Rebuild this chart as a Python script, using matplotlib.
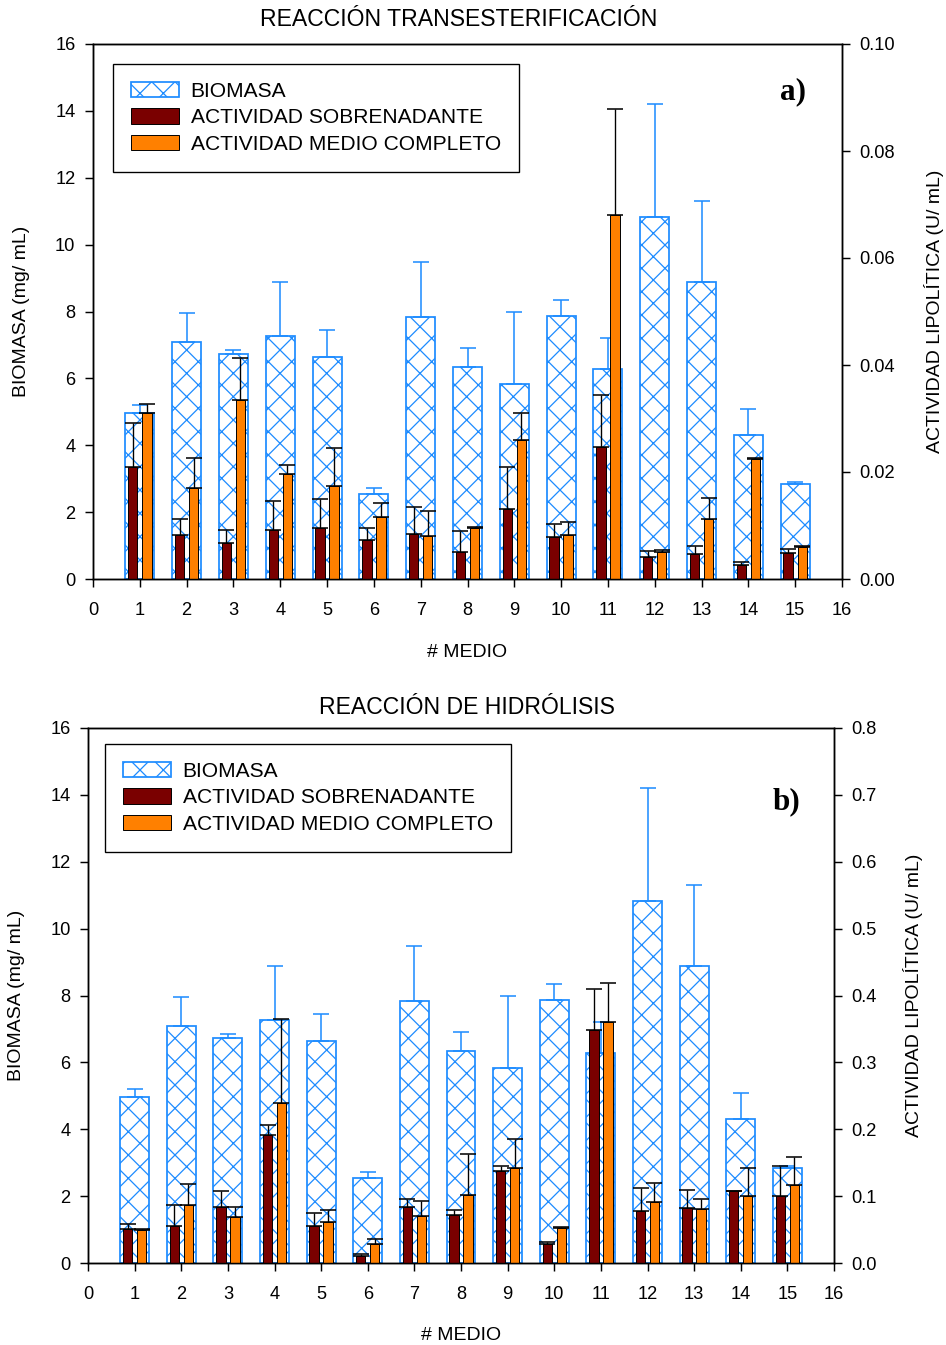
import numpy as np
import matplotlib
matplotlib.use("Agg")
import matplotlib.pyplot as plt
from matplotlib.ticker import FormatStrFormatter

# --- data ---
medio = list(range(1, 16))

biomasa = [4.97, 7.10, 6.72, 7.28, 6.63, 2.53, 7.84, 6.33, 5.82, 7.87, 6.28, 10.82, 8.87, 4.30, 2.83]
biomasa_err = [0.23, 0.86, 0.14, 1.61, 0.82, 0.20, 1.63, 0.59, 2.18, 0.47, 0.93, 3.38, 2.44, 0.77, 0.08]

# a) transesterificacion
trans_sobre = [0.0209, 0.0082, 0.0067, 0.0091, 0.0095, 0.0073, 0.0084, 0.0050, 0.0130, 0.0079, 0.0247, 0.0042, 0.0047, 0.0026, 0.0048]
trans_sobre_err = [0.0082, 0.0030, 0.0024, 0.0055, 0.0054, 0.0022, 0.0051, 0.0040, 0.0079, 0.0024, 0.0096, 0.0010, 0.0015, 0.0006, 0.0008]
trans_comp = [0.0310, 0.0171, 0.0334, 0.0196, 0.0174, 0.0116, 0.0080, 0.0095, 0.0260, 0.0082, 0.0680, 0.0051, 0.0112, 0.0224, 0.0060]
trans_comp_err = [0.0018, 0.0056, 0.0079, 0.0017, 0.0071, 0.0026, 0.0048, 0.0003, 0.0051, 0.0024, 0.0198, 0.0003, 0.0039, 0.0003, 0.0001]

# b) hidrolisis
hidro_sobre = [0.051, 0.055, 0.083, 0.191, 0.055, 0.0105, 0.084, 0.072, 0.137, 0.028, 0.348, 0.078, 0.082, 0.107, 0.100]
hidro_sobre_err = [0.008, 0.032, 0.025, 0.016, 0.020, 0.003, 0.012, 0.007, 0.0085, 0.003, 0.061, 0.034, 0.027, 0.001, 0.0455]
hidro_comp = [0.050, 0.087, 0.069, 0.240, 0.062, 0.028, 0.070, 0.101, 0.142, 0.053, 0.361, 0.091, 0.081, 0.100, 0.116]
hidro_comp_err = [0.001, 0.031, 0.014, 0.125, 0.017, 0.008, 0.022, 0.062, 0.043, 0.001, 0.058, 0.029, 0.015, 0.042, 0.043]

BLUE = '#1E8CFF'
DARKRED = '#7A0000'
ORANGE = '#FF8000'

DPI = 140
W, H = 946, 1345
plt.rcParams['font.family'] = ['Liberation Sans', 'DejaVu Sans']
plt.rcParams['hatch.linewidth'] = 0.65
plt.rcParams['hatch.color'] = BLUE
plt.rcParams['axes.linewidth'] = 0.75

fig = plt.figure(figsize=(W / DPI, H / DPI), dpi=DPI)


def px_axes(left, top, right, bottom):
    return fig.add_axes([left / W, 1 - bottom / H, (right - left) / W, (bottom - top) / H])


def panel(ax, sobre, sobre_err, comp, comp_err, ymax2, fmt, step2, leg_xy):
    x = np.array(medio)
    zeros = np.zeros(len(x))
    ax.bar(x, biomasa, width=0.62, facecolor='none', edgecolor=BLUE, linewidth=0.9,
           hatch='xx', label='BIOMASA', zorder=2)
    ax.errorbar(x, biomasa, yerr=[zeros, biomasa_err], fmt='none', ecolor=BLUE,
                elinewidth=0.8, capsize=4.2, capthick=0.8, zorder=3)
    ax.set_xlim(0, 16)
    ax.set_ylim(0, 16)
    ax.set_xticks(range(0, 17))
    ax.set_yticks(range(0, 17, 2))

    ax2 = ax.twinx()
    ax2.bar(x - 0.15, sobre, width=0.2, color=DARKRED, edgecolor='black', linewidth=0.5,
            label='ACTIVIDAD SOBRENADANTE', zorder=2)
    ax2.errorbar(x - 0.15, sobre, yerr=[zeros, sobre_err], fmt='none', ecolor='black',
                 elinewidth=0.7, capsize=4.2, capthick=0.8, zorder=3)
    ax2.bar(x + 0.15, comp, width=0.2, color=ORANGE, edgecolor='black', linewidth=0.5,
            label='ACTIVIDAD MEDIO COMPLETO', zorder=2)
    ax2.errorbar(x + 0.15, comp, yerr=[zeros, comp_err], fmt='none', ecolor='black',
                 elinewidth=0.7, capsize=4.2, capthick=0.8, zorder=3)
    ax2.set_ylim(0, ymax2)
    ax2.set_yticks(np.arange(0, ymax2 + step2 / 2, step2))
    ax2.yaxis.set_major_formatter(FormatStrFormatter(fmt))

    for a in (ax, ax2):
        a.tick_params(direction='out', length=4, width=0.75, labelsize=9.4, pad=5)
    ax.tick_params(axis='x', pad=8)

    h1, l1 = ax.get_legend_handles_labels()
    h2, l2 = ax2.get_legend_handles_labels()
    leg = ax2.legend(h1 + h2, l1 + l2, loc='upper left', bbox_to_anchor=leg_xy,
                     borderaxespad=0, fontsize=10.8, frameon=True, fancybox=False,
                     framealpha=1, edgecolor='black', handlelength=2.3,
                     handleheight=0.75, handletextpad=0.55, labelspacing=0.36,
                     borderpad=0.85)
    leg.get_frame().set_linewidth(0.7)
    return ax2


ax_a = px_axes(93, 44, 842, 579)
panel(ax_a, trans_sobre, trans_sobre_err, trans_comp, trans_comp_err,
      0.10, '%.2f', 0.02, ((113 - 93) / 749, 1 - (64 - 44) / 535))

ax_b = px_axes(88, 728, 834, 1263)
panel(ax_b, hidro_sobre, hidro_sobre_err, hidro_comp, hidro_comp_err,
      0.8, '%.1f', 0.1, ((105 - 88) / 746, 1 - (744 - 728) / 535))


def ftext(xp, yp, s, **kw):
    fig.text(xp / W, 1 - yp / H, s, ha='center', va='center', **kw)


ftext(459, 20, 'REACCIÓN TRANSESTERIFICACIÓN', fontsize=11.8)
ftext(467, 707, 'REACCIÓN DE HIDRÓLISIS', fontsize=11.8)
ftext(467, 652, '# MEDIO', fontsize=10)
ftext(461, 1336, '# MEDIO', fontsize=10)
ftext(22, 311, 'BIOMASA (mg/ mL)', fontsize=10, rotation=90)
ftext(17, 995, 'BIOMASA (mg/ mL)', fontsize=10, rotation=90)
ftext(934, 311, 'ACTIVIDAD LIPOLÍTICA (U/ mL)', fontsize=10, rotation=90)
ftext(913, 995, 'ACTIVIDAD LIPOLÍTICA (U/ mL)', fontsize=10, rotation=90)
ftext(793, 92, 'a)', fontsize=16, fontweight='bold', family='Liberation Serif')
ftext(786, 802, 'b)', fontsize=16, fontweight='bold', family='Liberation Serif')

fig.savefig('out.png', dpi=DPI)
